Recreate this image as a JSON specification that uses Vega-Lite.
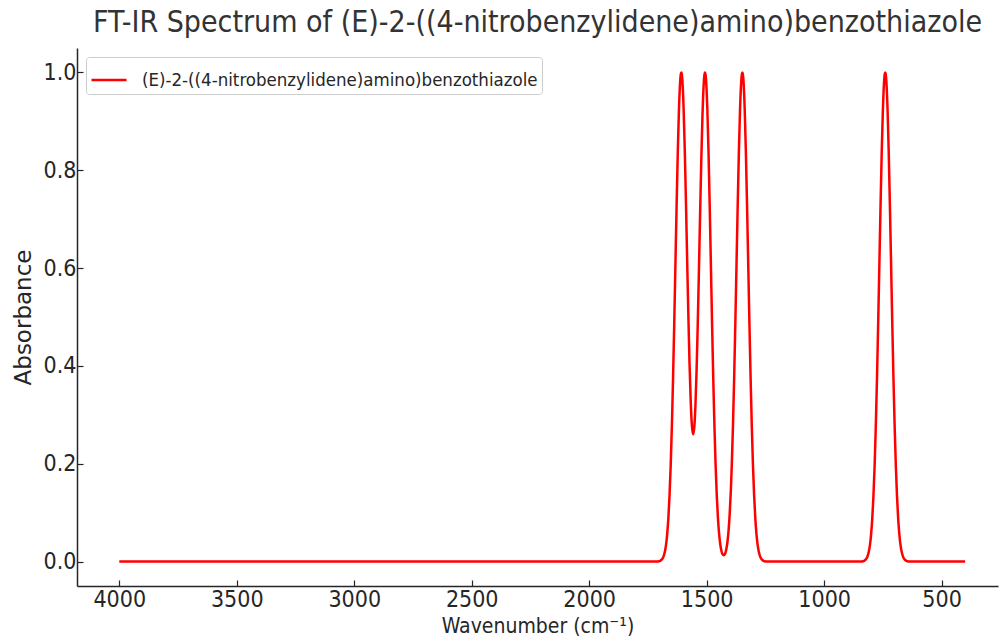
{
  "$schema": "https://vega.github.io/schema/vega-lite/v6.json",
  "width": 921,
  "height": 538,
  "autosize": {"type": "none"},
  "padding": {"left": 77, "top": 48, "right": 2, "bottom": 58},
  "background": "white",
  "config": {
    "view": {"stroke": null},
    "axis": {
      "grid": false,
      "domainColor": "#262626",
      "domainWidth": 1.5,
      "tickColor": "#262626",
      "tickWidth": 1.2,
      "tickSize": -6,
      "labelColor": "#262626",
      "labelFont": "DejaVu Sans Condensed",
      "labelFontSize": 23,
      "titleColor": "#262626",
      "titleFontWeight": "normal"
    },
    "legend": {
      "orient": "none",
      "legendX": 9,
      "legendY": 9,
      "fillColor": "white",
      "strokeColor": "#cccccc",
      "cornerRadius": 3,
      "padding": 4,
      "symbolType": "stroke",
      "symbolSize": 1225,
      "symbolStrokeWidth": 2.5,
      "labelFont": "DejaVu Sans Condensed",
      "labelFontSize": 18.5,
      "labelLimit": 0,
      "labelColor": "#262626",
      "labelOffset": 14
    }
  },
  "title": {
    "text": "FT-IR Spectrum of (E)-2-((4-nitrobenzylidene)amino)benzothiazole",
    "font": "DejaVu Sans Condensed",
    "fontSize": 30,
    "fontWeight": "normal",
    "color": "#333333",
    "anchor": "middle",
    "frame": "group",
    "baseline": "alphabetic",
    "offset": -14
  },
  "data": {
    "values": [
      {"x": 4000, "y": 0}, {"x": 1740, "y": 0}, {"x": 1728, "y": 0}, {"x": 1718, "y": 0.0001},
      {"x": 1708, "y": 0.0003}, {"x": 1703, "y": 0.0007}, {"x": 1698, "y": 0.0015}, {"x": 1693, "y": 0.0031},
      {"x": 1688, "y": 0.006}, {"x": 1683, "y": 0.0111}, {"x": 1678, "y": 0.0198}, {"x": 1673, "y": 0.034},
      {"x": 1668, "y": 0.0561}, {"x": 1663, "y": 0.0889}, {"x": 1658, "y": 0.1353}, {"x": 1653, "y": 0.1979},
      {"x": 1648, "y": 0.278}, {"x": 1643, "y": 0.3753}, {"x": 1638, "y": 0.4868}, {"x": 1633, "y": 0.6065},
      {"x": 1628, "y": 0.7261}, {"x": 1623, "y": 0.8353}, {"x": 1618, "y": 0.9231}, {"x": 1613, "y": 0.9802},
      {"x": 1610, "y": 0.9968}, {"x": 1608, "y": 1.0}, {"x": 1606, "y": 0.9972}, {"x": 1603, "y": 0.9808},
      {"x": 1598, "y": 0.9244}, {"x": 1593, "y": 0.838}, {"x": 1588, "y": 0.7314}, {"x": 1583, "y": 0.6163},
      {"x": 1578, "y": 0.5045}, {"x": 1573, "y": 0.406}, {"x": 1568, "y": 0.329}, {"x": 1563, "y": 0.2792},
      {"x": 1558, "y": 0.2601}, {"x": 1553, "y": 0.2729}, {"x": 1548, "y": 0.3167}, {"x": 1543, "y": 0.3885},
      {"x": 1538, "y": 0.4834}, {"x": 1533, "y": 0.5934}, {"x": 1528, "y": 0.7087}, {"x": 1523, "y": 0.8179},
      {"x": 1518, "y": 0.9092}, {"x": 1513, "y": 0.9723}, {"x": 1510, "y": 0.9933}, {"x": 1507, "y": 1.0},
      {"x": 1504, "y": 0.993}, {"x": 1502, "y": 0.9803}, {"x": 1497, "y": 0.9231}, {"x": 1492, "y": 0.8353},
      {"x": 1487, "y": 0.7261}, {"x": 1482, "y": 0.6065}, {"x": 1477, "y": 0.4868}, {"x": 1472, "y": 0.3753},
      {"x": 1467, "y": 0.278}, {"x": 1462, "y": 0.1979}, {"x": 1457, "y": 0.1354}, {"x": 1452, "y": 0.0891},
      {"x": 1447, "y": 0.0565}, {"x": 1442, "y": 0.0349}, {"x": 1437, "y": 0.0216}, {"x": 1432, "y": 0.0146},
      {"x": 1427, "y": 0.0128}, {"x": 1422, "y": 0.0156}, {"x": 1417, "y": 0.0237}, {"x": 1412, "y": 0.0384},
      {"x": 1407, "y": 0.062}, {"x": 1402, "y": 0.0971}, {"x": 1397, "y": 0.1466}, {"x": 1393, "y": 0.1979},
      {"x": 1388, "y": 0.278}, {"x": 1383, "y": 0.3753}, {"x": 1378, "y": 0.4868}, {"x": 1373, "y": 0.6065},
      {"x": 1368, "y": 0.7261}, {"x": 1363, "y": 0.8353}, {"x": 1358, "y": 0.9231}, {"x": 1353, "y": 0.9802},
      {"x": 1350, "y": 0.9968}, {"x": 1348, "y": 1.0}, {"x": 1346, "y": 0.9968}, {"x": 1343, "y": 0.9802},
      {"x": 1338, "y": 0.9231}, {"x": 1333, "y": 0.8353}, {"x": 1328, "y": 0.7261}, {"x": 1323, "y": 0.6065},
      {"x": 1318, "y": 0.4868}, {"x": 1313, "y": 0.3753}, {"x": 1308, "y": 0.278}, {"x": 1303, "y": 0.1979},
      {"x": 1298, "y": 0.1353}, {"x": 1293, "y": 0.0889}, {"x": 1288, "y": 0.0561}, {"x": 1283, "y": 0.034},
      {"x": 1278, "y": 0.0198}, {"x": 1273, "y": 0.0111}, {"x": 1268, "y": 0.006}, {"x": 1263, "y": 0.0031},
      {"x": 1258, "y": 0.0015}, {"x": 1253, "y": 0.0007}, {"x": 1248, "y": 0.0003}, {"x": 1238, "y": 0.0001},
      {"x": 1228, "y": 0}, {"x": 860, "y": 0}, {"x": 850, "y": 0.0001}, {"x": 840, "y": 0.0003},
      {"x": 835, "y": 0.0007}, {"x": 830, "y": 0.0015}, {"x": 825, "y": 0.0031}, {"x": 820, "y": 0.006},
      {"x": 815, "y": 0.0111}, {"x": 810, "y": 0.0198}, {"x": 805, "y": 0.034}, {"x": 800, "y": 0.0561},
      {"x": 795, "y": 0.0889}, {"x": 790, "y": 0.1353}, {"x": 785, "y": 0.1979}, {"x": 780, "y": 0.278},
      {"x": 775, "y": 0.3753}, {"x": 770, "y": 0.4868}, {"x": 765, "y": 0.6065}, {"x": 760, "y": 0.7261},
      {"x": 755, "y": 0.8353}, {"x": 750, "y": 0.9231}, {"x": 745, "y": 0.9802}, {"x": 742, "y": 0.9968},
      {"x": 740, "y": 1.0}, {"x": 738, "y": 0.9968}, {"x": 735, "y": 0.9802}, {"x": 730, "y": 0.9231},
      {"x": 725, "y": 0.8353}, {"x": 720, "y": 0.7261}, {"x": 715, "y": 0.6065}, {"x": 710, "y": 0.4868},
      {"x": 705, "y": 0.3753}, {"x": 700, "y": 0.278}, {"x": 695, "y": 0.1979}, {"x": 690, "y": 0.1353},
      {"x": 685, "y": 0.0889}, {"x": 680, "y": 0.0561}, {"x": 675, "y": 0.034}, {"x": 670, "y": 0.0198},
      {"x": 665, "y": 0.0111}, {"x": 660, "y": 0.006}, {"x": 655, "y": 0.0031}, {"x": 650, "y": 0.0015},
      {"x": 645, "y": 0.0007}, {"x": 640, "y": 0.0003}, {"x": 630, "y": 0.0001}, {"x": 620, "y": 0},
      {"x": 400, "y": 0}
    ]
  },
  "mark": {"type": "line", "strokeWidth": 2.5, "interpolate": "monotone", "clip": true},
  "encoding": {
    "x": {
      "field": "x",
      "type": "quantitative",
      "scale": {"domain": [260, 4180], "reverse": true, "nice": false, "zero": false},
      "axis": {
        "values": [4000, 3500, 3000, 2500, 2000, 1500, 1000, 500],
        "format": "d",
        "title": "Wavenumber (cm⁻¹)",
        "titleFont": "DejaVu Sans Condensed",
        "titleFontSize": 21,
        "titlePadding": 4,
        "labelPadding": 8
      }
    },
    "y": {
      "field": "y",
      "type": "quantitative",
      "scale": {"domain": [-0.05, 1.05], "nice": false, "zero": false},
      "axis": {
        "values": [0, 0.2, 0.4, 0.6, 0.8, 1.0],
        "format": ".1f",
        "title": "Absorbance",
        "titleFont": "DejaVu Sans",
        "titleFontSize": 23,
        "titlePadding": 8,
        "labelPadding": 7
      }
    },
    "color": {
      "datum": "(E)-2-((4-nitrobenzylidene)amino)benzothiazole",
      "type": "nominal",
      "scale": {"range": ["#ff0000"]},
      "legend": {"title": null}
    }
  }
}
